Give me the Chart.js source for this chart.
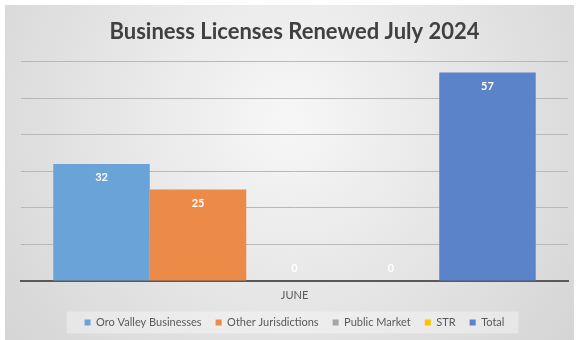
<!DOCTYPE html>
<html>
<head>
<meta charset="utf-8">
<script src="https://cdn.jsdelivr.net/npm/chart.js@4/dist/chart.umd.min.js"></script>
<style>
  html, body { margin: 0; padding: 0; background: #fff; }
  #wrap { width: 577px; height: 340px; }
</style>
</head>
<body>
<div id="wrap"><canvas id="myChart" width="577" height="340"></canvas></div>
<script>
var months = ["JUNE"]
var oroValley = [32]
var otherJurisdictions = [25]
var publicMarket = [0]
var str = [0]
var total = [57]

var FONT = "Lato, 'Open Sans', sans-serif"
var TEXT = '#595959'

// gray panel with a soft light centre, plus the lighter strip behind the legend
var background = {
    id: 'background',
    beforeDraw: function(chart) {
        var c = chart.ctx
        var w = chart.width, h = chart.height
        c.save()
        c.fillStyle = '#ffffff'
        c.fillRect(0, 0, w, h)
        var g = c.createRadialGradient(w / 2, h * 0.35, 10, w / 2, h * 0.35, w * 0.62)
        g.addColorStop(0, '#f6f6f6')
        g.addColorStop(1, '#d5d5d5')
        c.fillStyle = g
        c.fillRect(5, 5, w - 8, h - 5)
        var lg = chart.legend
        if (lg && lg.legendHitBoxes && lg.legendHitBoxes.length) {
            var boxes = lg.legendHitBoxes
            var left = boxes[0].left - 18
            var last = boxes[boxes.length - 1]
            var right = last.left + last.width + 14
            var mid = boxes[0].top + boxes[0].height / 2
            c.fillStyle = 'rgba(255,255,255,0.35)'
            c.fillRect(left, mid - 11, right - left, 22)
        }
        c.restore()
    }
}

// white value labels just inside the top of each bar (above the base when the bar is empty)
var valueLabels = {
    id: 'valueLabels',
    afterDatasetsDraw: function(chart) {
        var c = chart.ctx
        c.save()
        c.font = "bold 11px " + FONT
        c.fillStyle = '#ffffff'
        c.textAlign = 'center'
        c.textBaseline = 'middle'
        chart.data.datasets.forEach(function(ds, i) {
            chart.getDatasetMeta(i).data.forEach(function(bar, j) {
                var v = ds.data[j]
                var y = v > 0 ? bar.y + 14 : bar.base - 13
                c.fillText(String(v), bar.x, y)
            })
        })
        c.restore()
    }
}

var ctx = document.getElementById('myChart').getContext('2d')

var chart = new Chart(ctx, {
    type: 'bar',
    data: {
        labels: months,
        datasets: [
            { label: "Oro Valley Businesses", backgroundColor: '#6aa3d8', data: oroValley },
            { label: "Other Jurisdictions", backgroundColor: '#ec8a48', data: otherJurisdictions },
            { label: "Public Market", backgroundColor: '#a5a5a5', data: publicMarket },
            { label: "STR", backgroundColor: '#ffc000', data: str },
            { label: "Total", backgroundColor: '#5a83c9', data: total }
        ]
    },
    options: {
        responsive: false,
        animation: false,
        devicePixelRatio: 1,
        layout: { padding: { left: 21, right: 9, top: 5, bottom: 2 } },
        datasets: {
            bar: { barPercentage: 1, categoryPercentage: 0.882, borderWidth: 0 }
        },
        scales: {
            x: {
                grid: { display: false, drawTicks: false },
                border: { display: true, color: '#595959', width: 2 },
                ticks: { color: TEXT, padding: 8, font: { family: FONT, size: 11 } },
                afterFit: function(scale) { scale.height = 22 }
            },
            y: {
                min: 0,
                max: 60,
                ticks: { display: false, stepSize: 10 },
                grid: { color: '#b8b8b8', lineWidth: 1, drawTicks: false },
                border: { display: false }
            }
        },
        plugins: {
            title: {
                display: true,
                text: "Business Licenses Renewed July 2024",
                color: '#404040',
                font: { family: FONT, size: 22, weight: 'bold' },
                padding: { top: 14, bottom: 16 }
            },
            legend: {
                position: 'bottom',
                labels: {
                    color: TEXT,
                    boxWidth: 6,
                    boxHeight: 6,
                    padding: 14,
                    font: { family: FONT, size: 11 }
                }
            },
            tooltip: { enabled: false }
        }
    },
    plugins: [background, valueLabels]
})
</script>
</body>
</html>
